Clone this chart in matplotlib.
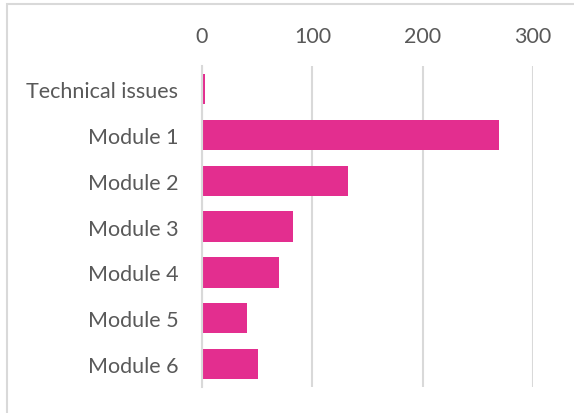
import matplotlib.pyplot as plt
from matplotlib.patches import Rectangle

# data
categories = ['Technical issues', 'Module 1', 'Module 2', 'Module 3',
              'Module 4', 'Module 5', 'Module 6']
counts = [3, 269, 132, 82, 70, 41, 51]
x_ticks = [0, 100, 200, 300]

bar_color = '#E32E8F'
text_color = '#595959'
grid_color = '#D9D9D9'

plt.rcParams['font.family'] = ['Lato', 'DejaVu Sans']

fig = plt.figure(figsize=(5.74, 4.14), dpi=100)
ax = fig.add_axes([0.352, 0.0628, 0.5766, 0.7752])

ypos = list(range(len(categories)))
ax.barh(ypos, counts, height=0.66, color=bar_color, zorder=3)

ax.set_xlim(0, 300)
ax.set_ylim(len(categories) - 0.5, -0.5)
ax.set_yticks(ypos)
ax.set_yticklabels(categories)
ax.set_xticks(x_ticks)

ax.xaxis.tick_top()
ax.tick_params(axis='both', length=0, labelsize=15.5, colors=text_color)
ax.tick_params(axis='y', pad=17)
ax.tick_params(axis='x', pad=14.5)

ax.grid(axis='x', color=grid_color, linewidth=1.5, zorder=0)
for side in ['top', 'right', 'bottom']:
    ax.spines[side].set_visible(False)
ax.spines['left'].set_color(grid_color)
ax.spines['left'].set_linewidth(1.5)
ax.spines['left'].set_zorder(4)

# chart frame (only left and top edges are inside the picture)
fig.patches.append(Rectangle((7 / 574, -0.1), 1.2, 1 - 5 / 414 + 0.1,
                             transform=fig.transFigure, fill=False,
                             edgecolor=grid_color, linewidth=1.5))

fig.savefig('out.png', dpi=100)
